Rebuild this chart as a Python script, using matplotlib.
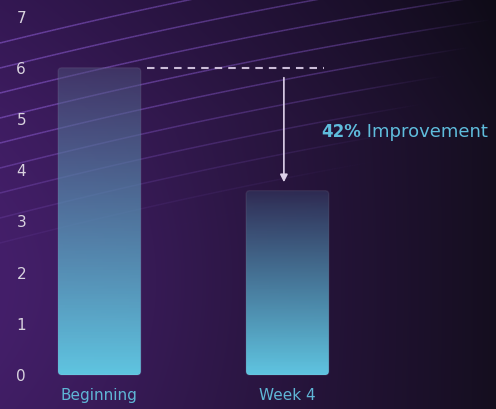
import numpy as np
import matplotlib.pyplot as plt
from matplotlib.patches import FancyBboxPatch
from matplotlib.collections import LineCollection

# data
categories = ['Beginning', 'Week 4']
scores = [6.0, 3.6]
yticks = [0, 1, 2, 3, 4, 5, 6, 7]
improvement = '42%'

W, H = 496, 409
plt.rcParams['font.family'] = ['DejaVu Sans']

fig = plt.figure(figsize=(W / 100, H / 100), dpi=100)

# background: purple -> dark gradient plus faint arcs
bg = fig.add_axes([0, 0, 1, 1])
bg.set_xlim(0, W)
bg.set_ylim(H, 0)
bg.axis('off')
xx, yy = np.meshgrid(np.arange(W), np.arange(H))
left = np.array([56, 26, 88]) / 255
right = np.array([20, 14, 30]) / 255
w = np.clip(1 - xx / W, 0, 1) ** 0.85
glow = np.exp(-(xx ** 2 / 240.0 ** 2 + (yy - 280) ** 2 / 200.0 ** 2))
img = right + (left - right) * w[..., None]
img = img + glow[..., None] * np.array([12, 5, 18]) / 255
img = img - (yy[..., None] < 120) * (120 - yy[..., None]) / 120 * np.array([6, 3, 8]) / 255
bg.imshow(np.clip(img, 0, 1), extent=(0, W, H, 0), aspect='auto', zorder=0)

cx, cy = 1256, 5115
xs = np.linspace(0, W, 300)
for y0 in np.arange(43, 270, 25):
    r = np.hypot(cx, cy - y0)
    ys = cy - np.sqrt(r ** 2 - (xs - cx) ** 2)
    pts = np.column_stack([xs, ys]).reshape(-1, 1, 2)
    segs = np.concatenate([pts[:-1], pts[1:]], axis=1)
    fade = np.clip(1 - (y0 - 130) / 140.0, 0, 1) if y0 > 130 else 1.0
    reach = np.clip((560 - xs[:-1] - (y0 - 43) * 0.9) / 120.0, 0, 1)
    a = 0.6 * (1 - 0.45 * xs[:-1] / W) * fade * reach
    cols = np.zeros((len(a), 4))
    cols[:, :3] = np.array([140, 92, 210]) / 255
    cols[:, 3] = np.clip(a, 0, 1)
    bg.add_collection(LineCollection(segs, colors=cols, linewidths=1.1, zorder=1))

# main chart
ax = fig.add_axes([40 / W, (H - 382) / H, 456 / W, (382 - 15) / H])
ax.set_facecolor('none')
ax.set_xlim(-0.316, 2.109)
ax.set_ylim(-0.137, 7.03)
for s in ax.spines.values():
    s.set_visible(False)

bar_w = 0.44
tops = [(np.array([78, 80, 124]) / 255, 0.5), (np.array([48, 46, 86]) / 255, 0.8)]
bottom_col = np.array([96, 198, 226]) / 255
for i, (cat, v) in enumerate(zip(categories, scores)):
    x0 = i - bar_w / 2
    patch = FancyBboxPatch((x0, 0), bar_w, v,
                           boxstyle='round,pad=0,rounding_size=0.02',
                           mutation_aspect=188 / 51.2,
                           facecolor='none', edgecolor=(1, 1, 1, 0.07), lw=1, zorder=3)
    ax.add_patch(patch)
    n = 200
    f = np.linspace(0, 1, n)[:, None]  # 0 top -> 1 bottom
    top_c, top_a = tops[i]
    g = f ** 0.85
    rgb = top_c * (1 - g) + bottom_col * g
    alpha = top_a * (1 - g) + 1.0 * g
    grad = np.dstack([rgb[:, 0:1], rgb[:, 1:2], rgb[:, 2:3], alpha])
    grad = np.repeat(grad, 2, axis=1)
    im = ax.imshow(grad, extent=(x0, x0 + bar_w, 0, v), aspect='auto', zorder=2,
                   interpolation='bilinear')
    im.set_clip_path(patch)

ax.set_xticks(range(len(categories)))
ax.set_xticklabels(categories, color='#5fb6d6', fontsize=11)
ax.set_yticks(yticks)
ax.set_yticklabels([str(t) for t in yticks], color='#d8d2de', fontsize=11)
ax.tick_params(axis='x', length=0, pad=4)
ax.tick_params(axis='y', length=0, pad=10)

# dashed reference + arrow
ax.plot([0.253, 1.195], [scores[0], scores[0]], ls=(0, (3.6, 2.9)), color='#cbbcd8', lw=1.5, zorder=4)
ax.annotate('', xy=(0.981, scores[1] + 0.11), xytext=(0.981, scores[0] - 0.14),
            arrowprops=dict(arrowstyle='-|>', color='#ddd0ea', lw=1.2, mutation_scale=11),
            zorder=4)
t1 = ax.text(1.179, 4.64, improvement, color='#5fbcdc', fontsize=12, fontweight='bold',
             ha='left', va='baseline')
ax.annotate(' Improvement', xy=(1, 0), xycoords=t1, ha='left', va='bottom',
            color='#5fbcdc', fontsize=13)

fig.savefig('out.png', dpi=100)
